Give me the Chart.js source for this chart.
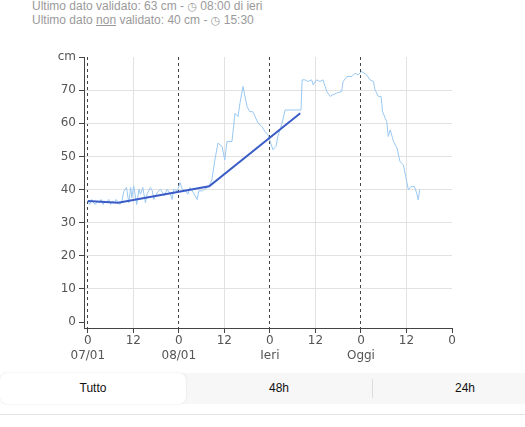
<!DOCTYPE html>
<html>
<head>
<meta charset="utf-8">
<script src="https://cdn.jsdelivr.net/npm/chart.js@4"></script>
<style>
  html, body { margin: 0; padding: 0; background: #fff; overflow: hidden; }
  body { width: 525px; height: 427px; position: relative; font-family: "Liberation Sans", Arial, sans-serif; }
  .info { position: absolute; left: 32px; top: 0px; font-size: 12px; line-height: 13.5px; color: #9a9a9a; white-space: nowrap; }
  .info u { text-decoration: underline; }
  .clock { font-family: "DejaVu Sans", sans-serif; font-size: 11px; }
  #chartBox { position: absolute; left: 0; top: 40px; width: 525px; height: 330px; }
  .range { position: absolute; left: 0; top: 373px; width: 558px; height: 31px; background: #f7f7f7; border-radius: 6px; display: flex; }
  .range div { flex: 1; text-align: center; line-height: 31px; font-size: 12px; color: #111; position: relative; }
  .range .active { background: #fff; border-radius: 7px; box-shadow: 0 0 2px rgba(0,0,0,0.12); }
  .range .sep { position: absolute; left: 0; top: 6px; width: 1px; height: 19px; background: #ddd; }
  .rule { position: absolute; left: 0; top: 414px; width: 525px; height: 1px; background: #e3e3e3; }
</style>
</head>
<body>
<div class="info">
  Ultimo dato validato: 63 cm - <span class="clock">◷</span> 08:00 di ieri<br>
  Ultimo dato <u>non</u> validato: 40 cm - <span class="clock">◷</span> 15:30
</div>
<div id="chartBox"><canvas id="levelChart" width="525" height="330"></canvas></div>
<div class="range">
  <div class="active">Tutto</div>
  <div>48h</div>
  <div><span class="sep"></span>24h</div>
</div>
<div class="rule"></div>
<script>
// hours from 07/01 00:00
const rawHours = [0, 0.5, 1, 1.5, 2, 2.5, 3, 3.5, 4, 4.5, 5, 5.5, 6, 6.5, 7, 7.5, 8, 8.5, 9, 9.5,
  10.2, 10.8, 11.3, 11.6, 12.1, 12.9, 13.5, 13.9, 14.5, 15.2, 15.6, 16.5, 17, 17.4, 18.3, 19.2, 20.1, 20.9,
  21.8, 22.2, 22.7, 23.6, 24.3, 24.9, 25.8, 26.4, 26.9, 27.8, 28.8, 29.3, 30.2, 30.8, 31.5, 32.2,
  32.7, 33.5, 34.3, 35.4, 36.1, 36.7, 38, 38.8, 39.6, 40.1, 40.9, 42, 42.7, 43.5, 44.9, 45.9, 46.7, 47.5,
  48.5, 48.8, 49.6, 50.1, 51.2, 52, 53.8, 56.2, 56.5, 57.3, 58, 59, 59.4, 60.3, 61.2, 62, 63, 63.9, 64.6,
  65.6, 66.9, 67.3, 68.3, 69.6, 70.4, 71.2, 72.2, 73.5, 74.4, 75.3, 75.7, 76.6, 77.3, 77.7, 78.4, 78.8,
  79.2, 79.7, 80.6, 81.5, 82.3, 83.2, 83.8, 84.5, 85.2, 86.1, 86.7, 87.1, 87.5];
const rawValues = [36.5, 35.5, 37, 36, 35.5, 36.5, 36, 37, 35.5, 36.5, 36, 37, 35.5, 36.5, 36, 37, 36, 35.5, 36.5, 39.5,
  40.6, 36, 40.6, 37.5, 41.1, 35.5, 40.1, 38.6, 40.6, 36, 38.6, 40.6, 39.6, 37, 39.1, 40.1, 38.1, 40.1,
  38.6, 37, 40.1, 39.6, 42.1, 40.1, 39.6, 38.6, 40.6, 39.1, 37, 39.6, 39.6, 40.1, 40.6, 41.6,
  42.9, 48.9, 54, 53, 48.9, 54.5, 54.5, 63, 62, 66, 71.1, 65, 63.5, 63.5, 60, 59, 57.5, 56.5,
  53, 52, 53, 56, 60, 64, 64, 64, 73.1, 73.1, 72.6, 73.1, 71.6, 73.1, 72.6, 73.1, 69.6, 68.1, 68.6,
  69.1, 69.6, 72.6, 74.1, 74.1, 75.1, 74.6, 75.6, 74.6, 73.1, 72.6, 70.1, 68.1, 68.1, 63.5, 61.5, 60.5,
  56, 58, 54.5, 52.5, 48.4, 47.4, 43.9, 39.9, 40.9, 40.9, 38.9, 36.9, 40];

const validatedHours = [0, 8, 32, 56];
const validatedValues = [36.5, 36, 41, 63];

const xTickValues = [0, 12, 24, 36, 48, 60, 72, 84, 96];
const dayLabels = ['07/01', '08/01', 'Ieri', 'Oggi'];
const yTickValues = [0, 10, 20, 30, 40, 50, 60, 70, 80];
const yUnit = 'cm';

Chart.defaults.font.family = '"DejaVu Sans", sans-serif';
Chart.defaults.font.size = 12;
Chart.defaults.color = '#555';

const toPoints = (xs, ys) => xs.map((x, i) => ({ x: x, y: ys[i] }));
const isMidnight = ctx => ctx.tick && ctx.tick.value % 24 === 0 && ctx.tick.value < 96;

new Chart(document.querySelector('#levelChart'), {
  type: 'line',
  data: {
    datasets: [{
      data: toPoints(validatedHours, validatedValues),
      borderColor: '#3b5cc6',
      borderWidth: 2,
      pointRadius: 0,
      tension: 0
    }, {
      data: toPoints(rawHours, rawValues),
      borderColor: '#99c8f2',
      borderWidth: 1,
      pointRadius: 0,
      tension: 0
    }]
  },
  options: {
    responsive: false,
    animation: false,
    devicePixelRatio: 1,
    layout: { padding: { top: 17, right: 73, bottom: 2, left: 0 } },
    plugins: { legend: { display: false }, tooltip: { enabled: false } },
    scales: {
      x: {
        type: 'linear',
        min: -1,
        max: 96,
        afterBuildTicks: scale => { scale.ticks = xTickValues.map(v => ({ value: v })); },
        afterFit: scale => { scale.height = 40; },
        ticks: {
          maxRotation: 0,
          autoSkip: false,
          padding: 1,
          color: '#555',
          callback: value => {
            if (value % 24 !== 0) return String(value % 24);
            const day = dayLabels[value / 24];
            return day ? ['0', day] : '0';
          }
        },
        grid: {
          color: ctx => isMidnight(ctx) ? '#444' : (ctx.tick && ctx.tick.value === 96 ? 'rgba(0,0,0,0)' : '#e2e2e2'),
          tickColor: '#444',
          tickWidth: 1,
          tickLength: 5,
          lineWidth: 1
        },
        border: {
          color: '#444',
          dash: ctx => isMidnight(ctx) ? [3, 3] : []
        }
      },
      y: {
        min: -1.8,
        max: 80,
        afterBuildTicks: scale => { scale.ticks = yTickValues.map(v => ({ value: v })); },
        afterFit: scale => { scale.width = 84; },
        ticks: {
          padding: 3,
          color: '#555',
          callback: value => value === 80 ? yUnit : String(value)
        },
        grid: {
          color: ctx => (ctx.tick && (ctx.tick.value === 0 || ctx.tick.value === 80)) ? 'rgba(0,0,0,0)' : '#e2e2e2',
          tickColor: '#444',
          tickWidth: 1,
          tickLength: 5,
          lineWidth: 1
        },
        border: { color: '#444' }
      }
    }
  }
});
</script>
</body>
</html>
